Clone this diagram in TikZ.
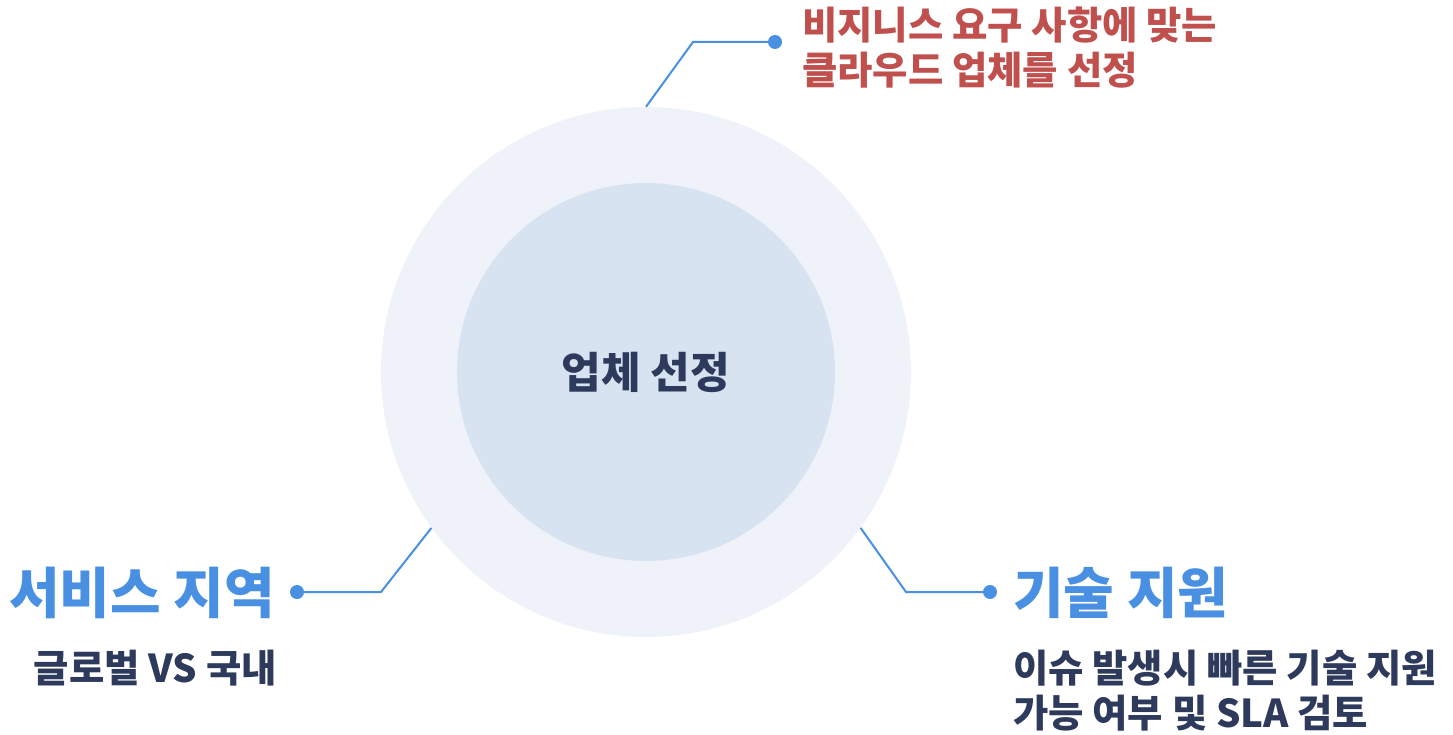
\documentclass[tikz,border=0pt]{standalone}
\usepackage{fontspec}
\setmainfont{Noto Sans CJK KR}
\usepackage{tikz}

\definecolor{outerfill}{HTML}{EFF3F9}
\definecolor{innerfill}{HTML}{D7E3F0}
\definecolor{lineblue}{HTML}{4A90E2}
\definecolor{headred}{HTML}{C0504D}
\definecolor{navy}{HTML}{2E3A5C}

\begin{document}
\begin{tikzpicture}[x=1pt,y=-1pt]
\tikzset{ring/.style = {shape=circle,draw=none,inner sep=0pt}}
\tikzset{dot/.style = {shape=circle,fill=lineblue,inner sep=0pt,minimum size=14pt}}
\tikzset{edge/.style = {draw=lineblue,line width=2pt}}
\tikzset{headtext/.style = {inner sep=0pt,text=lineblue,font=\fontsize{55}{66}\selectfont\bfseries}}
\tikzset{bodytext/.style = {inner sep=0pt,text=navy,align=left,font=\fontsize{38.4}{45}\selectfont\bfseries}}
\useasboundingbox (0,0) rectangle (1453,735);
% vertices
\node[ring,fill=outerfill,minimum size=530pt] (o) at (646,372) {};
\node[ring,fill=innerfill,minimum size=378pt,text=navy,
  font=\fontsize{43}{52}\selectfont\bfseries] (i) at (646,372) {업체 선정};
\node[dot] (d1) at (775,42) {};
\node[dot] (d2) at (297,592) {};
\node[dot] (d3) at (990,592) {};
\coordinate (b1) at (693,42);
\coordinate (b2) at (381,592);
\coordinate (b3) at (906,592);
\node[bodytext,text=headred,anchor=west] (t1) at (802,48) {비지니스 요구 사항에 맞는\\클라우드 업체를 선정};
\node[headtext,anchor=east] (t2) at (275,593) {서비스 지역};
\node[bodytext,anchor=east] (t3) at (277,668) {글로벌 VS 국내};
\node[headtext,anchor=west] (t4) at (1013,593) {기술 지원};
\node[bodytext,anchor=west] (t5) at (1013,691) {이슈 발생시 빠른 기술 지원\\가능 여부 및 SLA 검토};

%edges
\draw[edge] (o.north) -- (b1) -- (d1);
\draw[edge] (o.216) -- (b2) -- (d2);
\draw[edge] (o.-36) -- (b3) -- (d3);
\end{tikzpicture}
\end{document}
